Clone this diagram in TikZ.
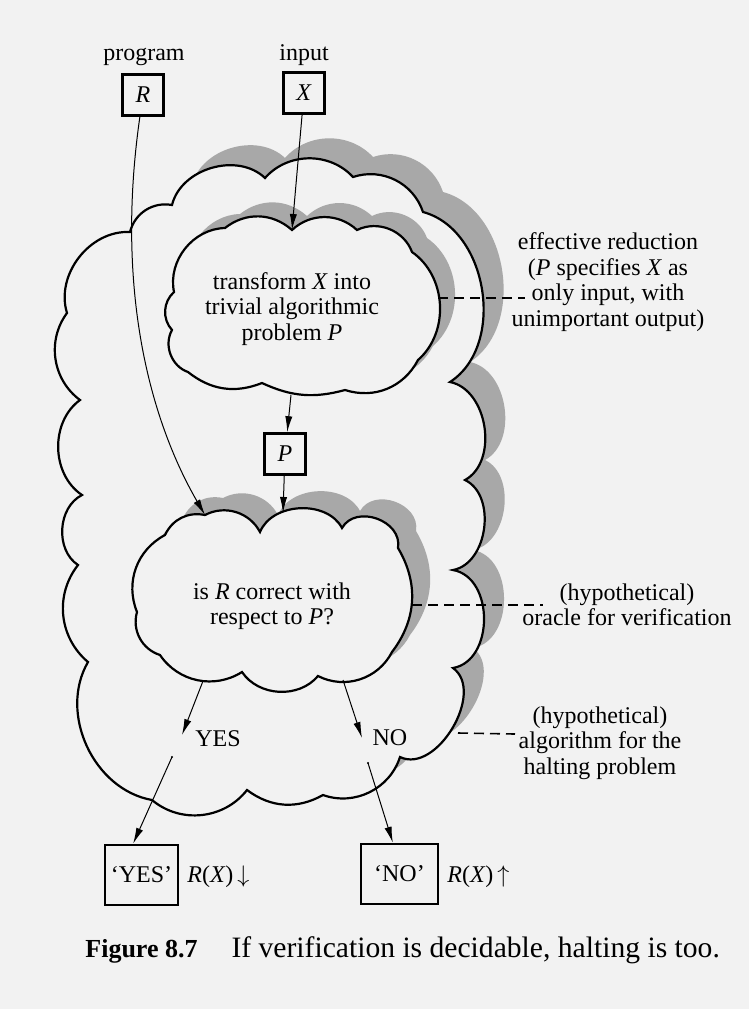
\documentclass[tikz,border=0pt]{standalone}
\usepackage{fontspec}
\setmainfont{Liberation Serif}
\usetikzlibrary{arrows.meta}
\definecolor{paper}{gray}{0.95}
\definecolor{shade}{gray}{0.66}
\newcommand{\outercloud}{(130,232) to[bend left=43] (172,205) to[bend left=60] (265,178) to[bend left=48] (353,177) to[bend left=45] (423,212) to[bend left=66] (450,382) to[bend left=70] (465,480) to[bend left=72] (453,570) to[bend left=80,looseness=1.1] (453,668) to[bend left=85] (400,757) to[bend left=46] (323,795) to[bend left=33] (247,790) to[bend left=46] (152,800) to[bend left=55] (88,662) to[bend left=44] (78,565) to[bend left=60] (82,495) to[bend left=55] (80,400) to[bend left=45] (67,313) to[bend left=55] (130,232) -- cycle}
\newcommand{\uppercloud}{(292,230) to[bend left=43] (357,230) to[bend left=48] (412,252) to[bend left=52] (418,360) to[bend left=40] (345,390) to[bend left=20] (262,383) to[bend left=30] (188,372) to[bend left=50] (172,330) to[bend left=45] (174,292) to[bend left=50] (225,228) to[bend left=40] (292,230) -- cycle}
\newcommand{\lowercloud}{(205,515) to[bend left=45] (260,532) to[bend left=65] (342,528) to[bend left=80,looseness=1.2] (398,548) to[bend left=34] (392,652) to[bend left=45] (318,676) to[bend left=53] (242,672) to[bend left=44] (160,655) to[bend left=44] (137,612) to[bend left=42] (165,535) to[bend left=38] (205,515) -- cycle}
\begin{document}
\begin{tikzpicture}[x=0.5pt, y=-0.5pt, font=\fontsize{12}{12.7}\selectfont,
  box/.style={draw, line width=1.3pt, minimum width=20.5pt, minimum height=20.5pt, inner sep=0pt},
  answer/.style={draw, line width=1.3pt, minimum height=30pt, inner sep=2pt},
  cloud/.style={draw, line width=1.1pt, fill=paper},
  shadow/.style={fill=shade},
  arr/.style={-{Latex[length=8pt,width=3.6pt]}, line width=0.5pt},
  note/.style={align=center},
  lead/.style={dash pattern=on 5pt off 3pt, line width=0.8pt}]
\fill[paper] (0,0) rectangle (749,1009);
\useasboundingbox (0,0) rectangle (749,1009);
\begin{scope}
\clip (195,0) rectangle (749,1009);
\fill[shadow, shift={(20,-20)}] \outercloud;
\end{scope}
\draw[cloud] \outercloud;
\fill[shadow, shift={(15,-14)}] \uppercloud;
\draw[cloud] \uppercloud;
\fill[shadow, shift={(18,-17)}] \lowercloud;
\draw[cloud] \lowercloud;
\coordinate (xin) at (292,230);
\coordinate (rin) at (205,515);
\coordinate (pout) at (291,395);
\coordinate (pin) at (283,513);
\coordinate (yout) at (203,681);
\coordinate (ytip) at (182,735);
\coordinate (ydot) at (172,757);
\coordinate (nout) at (343,680);
\coordinate (ntip) at (362,738);
\coordinate (ndot) at (368,763);
\coordinate (effout) at (438,298);
\coordinate (effin) at (525,298);
\coordinate (orout) at (412,605);
\coordinate (orin) at (543,605);
\coordinate (haout) at (458,733);
\coordinate (hain) at (515,734);
\node (program) at (144,57) {program};
\node (input) at (304,55) {input};
\node[box] (R) at (143,95) {\textit{R}};
\node[box] (X) at (304,93) {\textit{X}};
\node[box] (P) at (285,454) {\textit{P}};
\node[note] (transform) at (292,309) {transform \textit{X} into\\trivial algorithmic\\problem \textit{P}};
\node[note] (iscorrect) at (272,606) {is \textit{R} correct with\\respect to \textit{P}?};
\node (yes) at (218,739) {YES};
\node (no) at (390,738) {NO};
\node[answer, minimum width=36.5pt] (yesbox) at (141.5,875) {`YES'};
\node[answer, minimum width=38.5pt] (nobox) at (399.5,874) {`NO'};
\node[anchor=west, inner sep=0pt] (halts) at (187,877) {\textit{R}(\textit{X})\,$\downarrow$};
\node[anchor=west, inner sep=0pt] (loops) at (447,877) {\textit{R}(\textit{X})\,$\uparrow$};
\node[note] (effred) at (608,282) {effective reduction\\(\textit{P} specifies \textit{X} as\\only input, with\\unimportant output)};
\node[note] (oracle) at (627,605) {(hypothetical)\\oracle for verification};
\node[note] (haltalg) at (600,743) {(hypothetical)\\algorithm for the\\halting problem};
\node[anchor=base west, inner sep=0pt] (caption) at (85,957) {\fontsize{13}{15}\selectfont\textbf{Figure 8.7}\hspace{17pt}{\fontsize{14.8}{16}\selectfont If verification is decidable, halting is too.}};
\draw[arr] (X) -- (xin);
\draw[arr] (R) .. controls (115,290) and (150,420) .. (rin);
\draw[arr] (pout) -- (P);
\draw[arr] (P) -- (pin);
\draw[arr] (yout) -- (ytip);
\draw[arr] (ydot) -- (yesbox.105);
\draw[arr] (nout) -- (ntip);
\draw[arr] (ndot) -- (nobox.102);
\fill (ydot) circle (1.2);
\fill (ndot) circle (1.2);
\draw[lead] (effout) -- (effin);
\draw[lead] (orout) -- (orin);
\draw[lead] (haout) -- (hain);
\end{tikzpicture}
\end{document}
